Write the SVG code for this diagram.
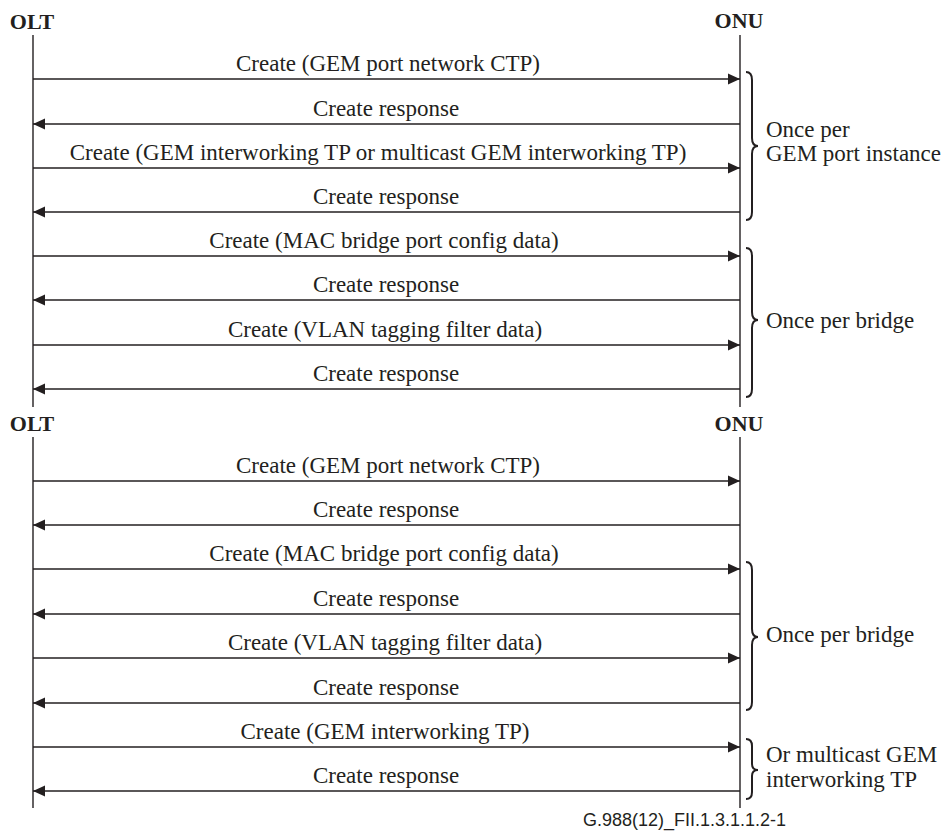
<svg xmlns="http://www.w3.org/2000/svg" width="944" height="832" viewBox="0 0 944 832">
<defs>
<style>
.lbl{font-family:"Liberation Serif","Times New Roman",serif;font-size:23px;fill:#231f20;text-anchor:middle}
.side{font-family:"Liberation Serif","Times New Roman",serif;font-size:23px;fill:#231f20}
.hdr{font-family:"Liberation Serif","Times New Roman",serif;font-size:22px;font-weight:bold;fill:#231f20;text-anchor:middle}
.foot{font-family:"Liberation Sans",Arial,sans-serif;font-size:18px;fill:#231f20}
.life{stroke:#231f20;stroke-width:1.4;fill:none}
.msg{stroke:#231f20;stroke-width:1.4;fill:none;marker-end:url(#ah)}
.brace{stroke:#231f20;stroke-width:2;fill:none}
</style>
<marker id="ah" viewBox="0 0 12 12" refX="12" refY="6" markerWidth="12" markerHeight="12" orient="auto" markerUnits="userSpaceOnUse">
<path d="M0,0.5 L12,6 L0,11.5 z" fill="#231f20"/>
</marker>
</defs>
<rect width="944" height="832" fill="#ffffff"/>

<g id="olt-top"><text class="hdr" x="32" y="29">OLT</text><line class="life" x1="33" y1="35" x2="33" y2="407"/></g>
<g id="onu-top"><text class="hdr" x="739" y="28">ONU</text><line class="life" x1="740" y1="35" x2="740" y2="407"/></g>
<g id="olt-bottom"><text class="hdr" x="32" y="431">OLT</text><line class="life" x1="33" y1="437" x2="33" y2="808"/></g>
<g id="onu-bottom"><text class="hdr" x="739" y="431">ONU</text><line class="life" x1="740" y1="437" x2="740" y2="808"/></g>

<g id="connectors">
<line class="msg" x1="33" y1="79" x2="740" y2="79"/>
<line class="msg" x1="740" y1="124" x2="33" y2="124"/>
<line class="msg" x1="33" y1="168" x2="740" y2="168"/>
<line class="msg" x1="740" y1="212" x2="33" y2="212"/>
<line class="msg" x1="33" y1="256" x2="740" y2="256"/>
<line class="msg" x1="740" y1="300" x2="33" y2="300"/>
<line class="msg" x1="33" y1="345" x2="740" y2="345"/>
<line class="msg" x1="740" y1="389" x2="33" y2="389"/>
<line class="msg" x1="33" y1="481" x2="740" y2="481"/>
<line class="msg" x1="740" y1="525" x2="33" y2="525"/>
<line class="msg" x1="33" y1="569" x2="740" y2="569"/>
<line class="msg" x1="740" y1="614" x2="33" y2="614"/>
<line class="msg" x1="33" y1="658" x2="740" y2="658"/>
<line class="msg" x1="740" y1="703" x2="33" y2="703"/>
<line class="msg" x1="33" y1="747" x2="740" y2="747"/>
<line class="msg" x1="740" y1="791" x2="33" y2="791"/>
</g>

<g id="labels">
<text class="lbl" x="388" y="71">Create (GEM port network CTP)</text>
<text class="lbl" x="386" y="116">Create response</text>
<text class="lbl" x="378" y="160">Create (GEM interworking TP or multicast GEM interworking TP)</text>
<text class="lbl" x="386" y="204">Create response</text>
<text class="lbl" x="384" y="248">Create (MAC bridge port config data)</text>
<text class="lbl" x="386" y="292">Create response</text>
<text class="lbl" x="385" y="337">Create (VLAN tagging filter data)</text>
<text class="lbl" x="386" y="381">Create response</text>
<text class="lbl" x="388" y="473">Create (GEM port network CTP)</text>
<text class="lbl" x="386" y="517">Create response</text>
<text class="lbl" x="384" y="561">Create (MAC bridge port config data)</text>
<text class="lbl" x="386" y="606">Create response</text>
<text class="lbl" x="385" y="650">Create (VLAN tagging filter data)</text>
<text class="lbl" x="386" y="695">Create response</text>
<text class="lbl" x="385" y="739">Create (GEM interworking TP)</text>
<text class="lbl" x="386" y="783">Create response</text>
</g>

<g id="brace-gem-port">
<path class="brace" d="M746,72 Q752,72 752,80 L752,138 Q752,146 758,146 Q752,146 752,154 L752,212 Q752,220 746,220"/>
<text class="side" x="766" y="137">Once per</text>
<text class="side" x="766" y="161">GEM port instance</text>
</g>
<g id="brace-bridge-top">
<path class="brace" d="M746,248 Q752,248 752,256 L752,312 Q752,320 758,320 Q752,320 752,328 L752,389 Q752,397 746,397"/>
<text class="side" x="766" y="328">Once per bridge</text>
</g>
<g id="brace-bridge-bottom">
<path class="brace" d="M746,562 Q752,562 752,570 L752,629 Q752,637 758,637 Q752,637 752,645 L752,702 Q752,710 746,710"/>
<text class="side" x="766" y="642">Once per bridge</text>
</g>
<g id="brace-multicast">
<path class="brace" d="M746,739 Q752,739 752,746 L752,764 Q752,770 758,770 Q752,770 752,776 L752,792 Q752,799 746,799"/>
<text class="side" x="766" y="762">Or multicast GEM</text>
<text class="side" x="766" y="787">interworking TP</text>
</g>

<text class="foot" x="583" y="826">G.988(12)_FII.1.3.1.1.2-1</text>
</svg>
